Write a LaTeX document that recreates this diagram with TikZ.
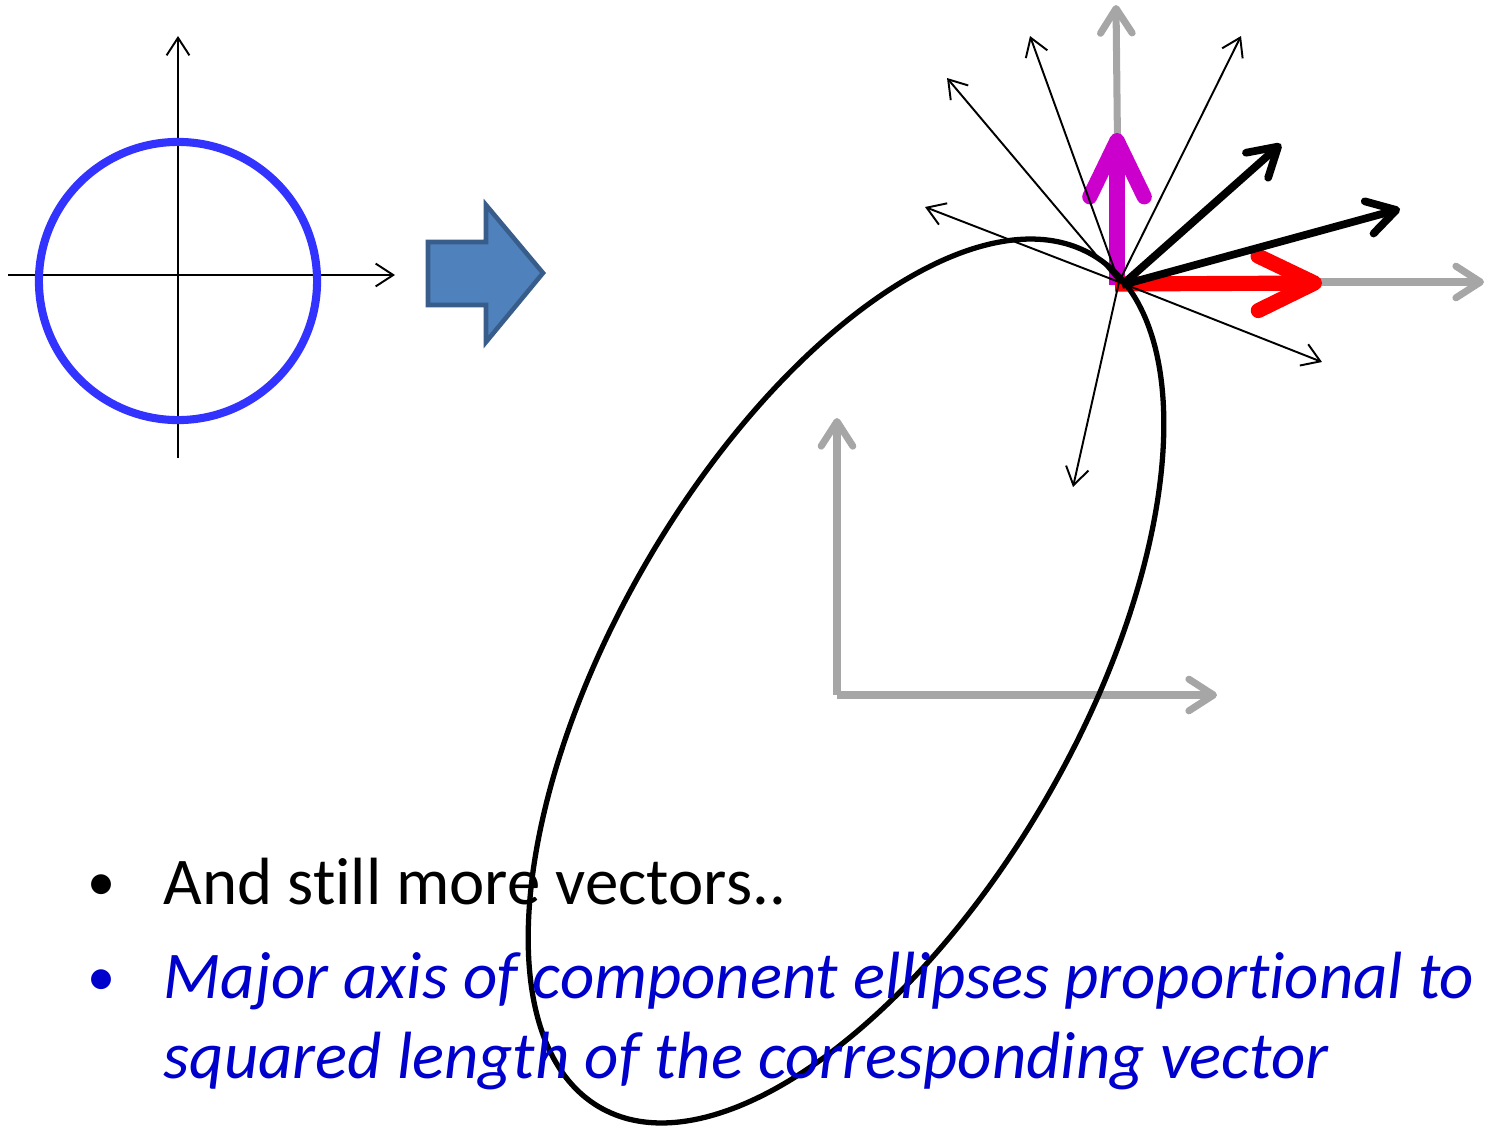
\documentclass[tikz,border=0pt]{standalone}
\usepackage{fontspec}
\setmainfont{Carlito}[Ligatures={TeX,NoCommon}]
\usetikzlibrary{arrows.meta}
\definecolor{circblue}{RGB}{51,51,255}
\definecolor{axisgray}{RGB}{166,166,166}
\definecolor{vecmagenta}{RGB}{204,0,204}
\definecolor{txtblue}{RGB}{0,0,204}
\definecolor{blockfill}{RGB}{79,129,189}
\definecolor{blockdraw}{RGB}{56,93,138}

\begin{document}
\begin{tikzpicture}[x=0.01cm, y=-0.01cm,
  thinvec/.style={-{Straight Barb[length=5pt,width=6.5pt]}, line width=0.55pt},
  grayvec/.style={-{Straight Barb[round,length=7pt,width=9pt]}, line width=2pt, axisgray},
  boldvec/.style={-{Straight Barb[round,length=8pt,width=9.5pt]}, line width=2.2pt},
  fatvec/.style={-{Straight Barb[round,length=16pt,width=15.5pt]}, line width=4.3pt},
  every node/.style={inner sep=0pt, font=\fontsize{19}{23}\selectfont}]
  \useasboundingbox (0,0) rectangle (1485,1127);
  % circle with axes
  \coordinate (c0) at (178,281);
  \coordinate (xl) at (8,275);   \coordinate (xr) at (395,275);
  \coordinate (yb) at (178,458); \coordinate (yt) at (178,36);
  \draw[thinvec] (xl) -- (xr);
  \draw[thinvec] (yb) -- (yt);
  \draw[circblue, line width=2.3pt] (c0) circle [radius=1.39cm];
  % block arrow
  \draw[blockdraw, fill=blockfill, line width=1.3pt, line join=miter]
    (428,242) -- (486,242) -- (486,205) -- (543,273) -- (486,342) -- (486,305) -- (428,305) -- cycle;
  % frame axes
  \coordinate (f0) at (837,695);
  \coordinate (fx) at (1217,695); \coordinate (fy) at (837,418);
  \draw[grayvec] (f0) -- (fx);
  \draw[grayvec] (f0) -- (fy);
  % vectors
  \coordinate (O) at (1119,282);
  \coordinate (gu) at (1116,5);   \coordinate (gr) at (1484,282);
  \draw[grayvec] (O) -- (gu);
  \draw[grayvec] (O) -- (gr);
  \coordinate (mu) at (1117,133); \coordinate (rr) at (1322,283);
  \draw[fatvec, vecmagenta] (1117,285) -- (mu);
  \draw[fatvec, red] (1115,284) -- (rr);
  \coordinate (k1) at (1281,144); \coordinate (k2) at (1400,209);
  \draw[boldvec] (1122,285) -- (k1);
  \draw[boldvec] (1122,285) -- (k2);
  \foreach \t in {(1030,36),(1241,36),(947,78),(925,207),(1322,362),(1073,487)}
    \draw[thinvec] (O) -- \t;
  % ellipse
  \draw[line width=1.5pt, shift={(846,681)}, rotate=60] (0,0) ellipse [x radius=4.92cm, y radius=2.32cm];
  % text
  \node[anchor=base, font=\fontsize{16}{20}\selectfont] (b1) at (102,900) {•};
  \node[anchor=base west] (l1) at (163,904) {And still more vectors..};
  \node[anchor=base, txtblue, font=\fontsize{16}{20}\selectfont] (b2) at (102,995) {•};
  \node[anchor=base west, txtblue, font=\fontsize{19}{23}\selectfont\itshape] (l2) at (163,998) {Major axis of component ellipses proportional to};
  \node[anchor=base west, txtblue, font=\fontsize{19}{23}\selectfont\itshape] (l3) at (163,1078) {squared length of the corresponding vector};
\end{tikzpicture}
\end{document}
